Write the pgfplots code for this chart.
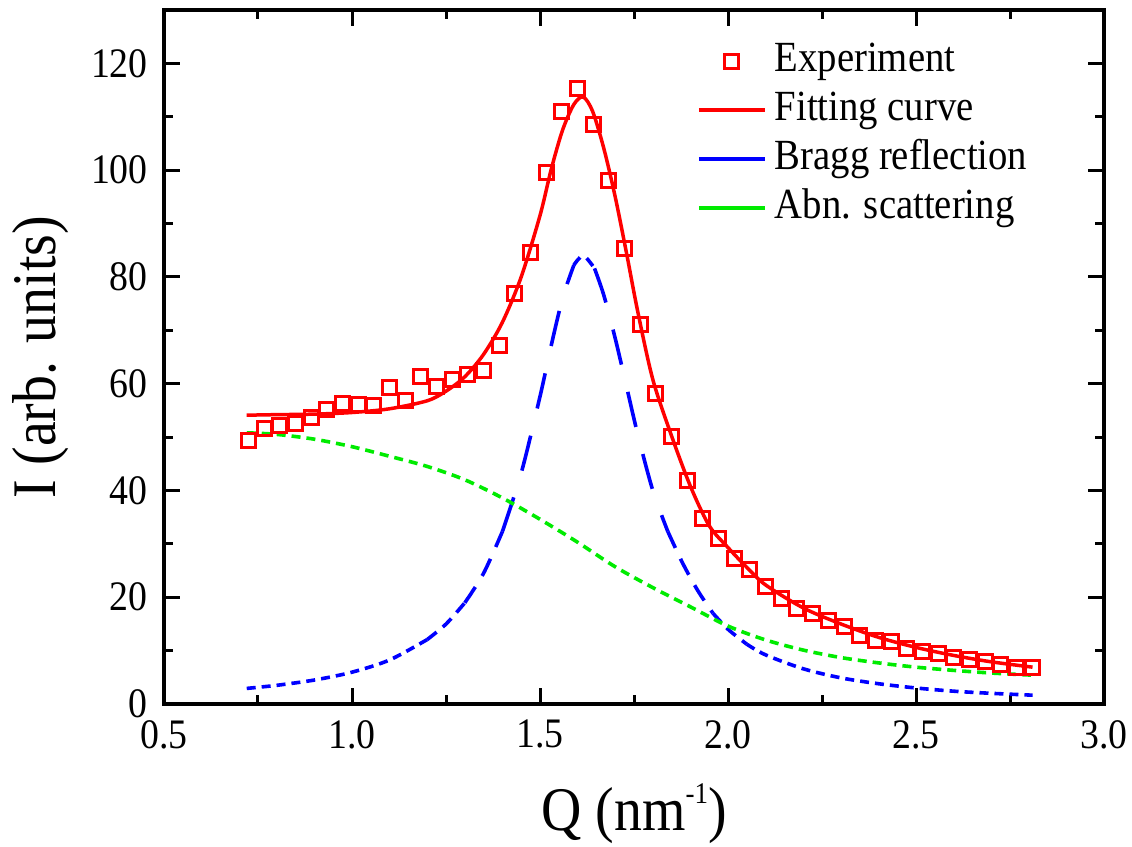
\documentclass[border=0pt]{standalone}
\usepackage{pgfplots}
\pgfplotsset{compat=1.18}
\usepackage{fontspec}
\setmainfont{Liberation Serif}[FakeStretch=0.9]
\definecolor{cred}{RGB}{255,0,0}
\definecolor{cblue}{RGB}{0,0,255}
\definecolor{cgreen}{RGB}{0,235,0}
\newcommand{\tickfont}{\fontsize{42}{48}\selectfont}
\newcommand{\legfont}{\fontsize{43}{48}\selectfont}
\newcommand{\labfont}{\fontsize{62}{70}\selectfont}
\pgfplotsset{
  lineleg/.style={legend image code/.code={\draw[##1,solid] (0pt,0pt) -- (66pt,0pt);}},
  markleg/.style={legend image code/.code={\draw[mark repeat=2,mark phase=2,##1] plot coordinates {(0pt,0pt) (33pt,0pt) (66pt,0pt)};}},
}
\begin{document}
\begin{tikzpicture}
\begin{axis}[name=ax, scale only axis, width=940pt, height=694pt,
  xmin=0.5, xmax=3.0, ymin=0, ymax=130,
  xtick={0.5,1,1.5,2,2.5,3}, ytick={0,20,40,60,80,100,120},
  minor x tick num=1, minor y tick num=1,
  tick align=inside, major tick length=16pt, minor tick length=9pt,
  axis line style={line width=3.2pt},
  every tick/.style={black, line width=3pt},
  /pgf/number format/assume math mode=true,
  xticklabel style={font=\tickfont, inner sep=0pt, yshift=-16pt, /pgf/number format/.cd, fixed, fixed zerofill, precision=1},
  yticklabel style={font=\tickfont, inner sep=0pt, xshift=-16pt},
  every axis x label/.style={at={(axis description cs:0.5,-0.183)}, anchor=base, font=\labfont},
  every axis y label/.style={at={(axis description cs:-0.131,0.5)}, rotate=90, anchor=center, font=\labfont},
  xlabel={Q (nm\raisebox{27pt}{\fontsize{30}{30}\selectfont -1})},
  ylabel={I (arb. units)},
  legend cell align=left,
  legend style={draw=none, fill=none, at={(0.567,0.954)}, anchor=north west, inner sep=0pt,
    row sep=11pt, font=\legfont, nodes={inner sep=0pt, text height=29pt, text depth=9pt},
    /tikz/every odd column/.append style={column sep=8pt}},
]
% Experiment
\addplot[only marks, mark=square, mark size=7pt, mark options={solid, draw=cred, line width=3pt, fill=none}, markleg]
coordinates {
(0.724,49.4) (0.766,51.6) (0.808,52.2) (0.849,52.6) (0.891,53.7) (0.933,55.1) (0.974,56.3)
(1.016,56.1) (1.058,56.0) (1.099,59.2) (1.141,56.9) (1.183,61.3) (1.224,59.4) (1.266,60.8)
(1.308,61.8) (1.349,62.4) (1.391,67.2) (1.433,76.9) (1.475,84.5) (1.516,99.5) (1.558,111.0)
(1.600,115.3) (1.641,108.6) (1.683,98.1) (1.725,85.3) (1.767,71.0) (1.808,58.2) (1.850,50.1)
(1.892,41.8) (1.933,34.8) (1.975,31.0) (2.017,27.3) (2.058,25.2) (2.100,22.0) (2.142,19.8)
(2.183,17.9) (2.225,17.0) (2.267,15.7) (2.309,14.6) (2.350,12.8) (2.392,11.9) (2.434,11.7)
(2.475,10.4) (2.517,9.8) (2.559,9.4) (2.600,8.7) (2.642,8.4) (2.684,7.9) (2.726,7.4)
(2.767,6.8) (2.809,6.8)};
\addlegendentry{Experiment}
% Fitting curve
\addplot[cred, line width=3.5pt, smooth, mark=none, lineleg]
coordinates {
(0.72,54.1) (0.80,54.2) (0.90,54.3) (1.00,54.6) (1.10,55.3) (1.20,56.8) (1.25,58.6)
(1.30,61.3) (1.35,65.5) (1.40,71.5) (1.45,80.0) (1.50,91.5) (1.53,100.2) (1.56,107.5)
(1.59,112.3) (1.615,113.7) (1.64,111.0) (1.67,104.0) (1.70,95.0) (1.73,84.5) (1.76,73.5)
(1.80,60.8) (1.85,50.2) (1.90,40.8) (1.95,33.4) (2.00,29.3) (2.05,25.6) (2.10,22.3)
(2.20,18.0) (2.30,15.0) (2.40,12.5) (2.50,10.6) (2.60,9.1) (2.70,7.9) (2.81,6.9)};
\addlegendentry{Fitting curve}
% Bragg reflection (segments with dash length following the slope)
\addplot[cblue, line width=3.6pt, smooth, dash pattern=on 9pt off 6pt, lineleg]
coordinates {(0.72,2.92) (0.80,3.50) (0.90,4.49) (1.00,5.96) (1.10,8.25) (1.20,12.07)};
\addlegendentry{Bragg reflection}
\addplot[cblue, line width=3.6pt, smooth, dash pattern=on 12pt off 8pt, forget plot]
coordinates {(1.20,12.07) (1.25,14.97) (1.30,18.95)};
\addplot[cblue, line width=3.6pt, smooth, dash pattern=on 19pt off 13pt, forget plot]
coordinates {(1.30,18.95) (1.35,24.49) (1.40,32.3)};
\addplot[cblue, line width=3.6pt, smooth, dash pattern=on 36pt off 28pt, forget plot]
coordinates {(1.40,32.3) (1.45,43.25) (1.50,57.6) (1.53,67.2) (1.56,76.0) (1.59,82.2)};
\addplot[cblue, line width=3.6pt, smooth, dash pattern=on 10pt off 8pt, forget plot]
coordinates {(1.59,82.2) (1.615,84.0) (1.645,81.6)};
\addplot[cblue, line width=3.6pt, smooth, dash pattern=on 36pt off 28pt, forget plot]
coordinates {(1.645,81.6) (1.67,76.5) (1.70,68.5) (1.73,59.5) (1.76,50.5) (1.80,40.0) (1.84,32.3)};
\addplot[cblue, line width=3.6pt, smooth, dash pattern=on 18pt off 12pt, forget plot]
coordinates {(1.84,32.3) (1.88,26.3) (1.92,21.2) (1.96,17.0)};
\addplot[cblue, line width=3.6pt, smooth, dash pattern=on 12pt off 8pt, forget plot]
coordinates {(1.96,17.0) (2.00,14.0) (2.05,11.2)};
\addplot[cblue, line width=3.6pt, smooth, dash pattern=on 9pt off 6pt, forget plot]
coordinates {(2.05,11.2) (2.10,9.2) (2.20,6.6) (2.30,4.9) (2.40,3.8) (2.50,3.0) (2.60,2.4) (2.70,2.0) (2.81,1.65)};
% Abnormal scattering
\addplot[cgreen, line width=3.6pt, smooth, dash pattern=on 9pt off 6pt, lineleg]
coordinates {
(0.72,50.8) (0.80,50.5) (0.90,49.6) (1.00,48.2) (1.10,46.4) (1.20,44.5) (1.30,42.0)
(1.40,38.6) (1.50,34.6) (1.60,30.3) (1.70,25.7) (1.80,21.8) (1.90,18.2) (2.00,14.6)
(2.10,12.0) (2.20,10.1) (2.30,8.7) (2.40,7.7) (2.50,6.9) (2.60,6.3) (2.70,5.8) (2.81,5.4)};
\addlegendentry{Abn. scattering}
\end{axis}
\pgfresetboundingbox
\path[use as bounding box] ([xshift=-164pt,yshift=-143pt]ax.south west) rectangle ([xshift=28pt,yshift=10pt]ax.north east);
\end{tikzpicture}
\end{document}
